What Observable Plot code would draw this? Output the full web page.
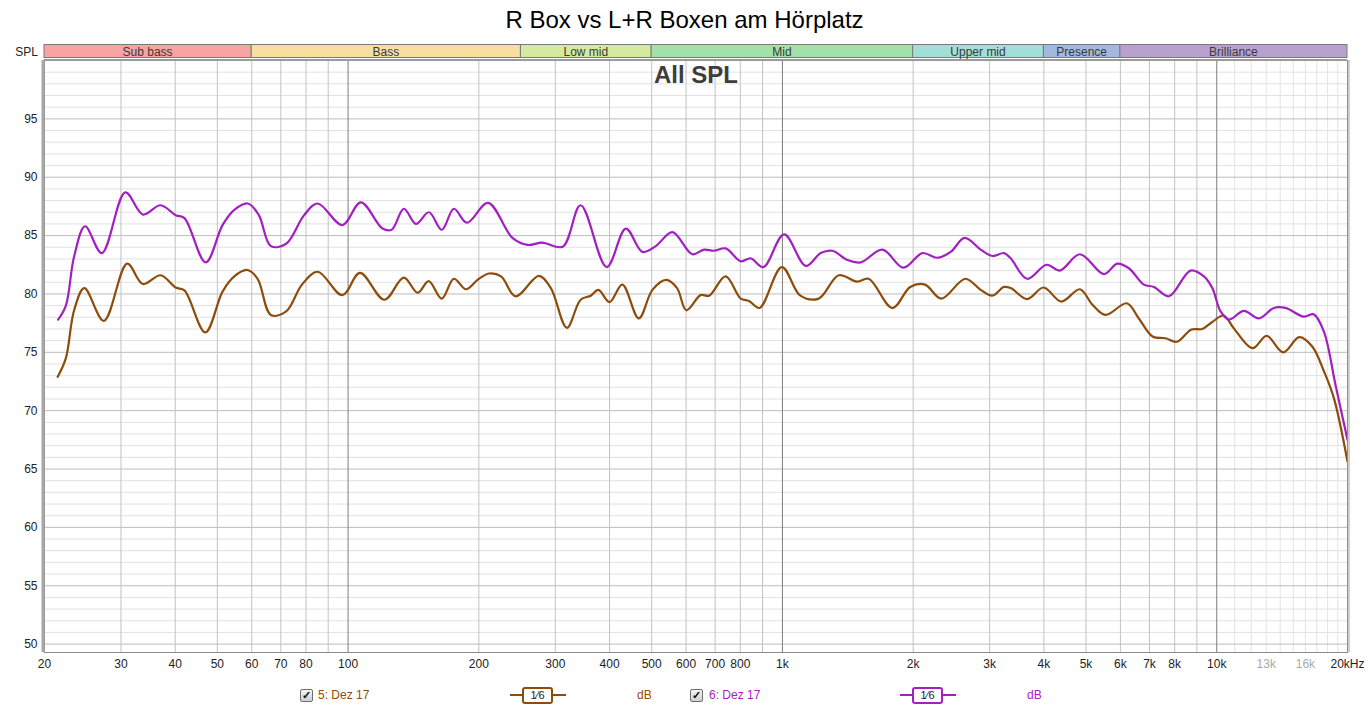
<!DOCTYPE html>
<html>
<head>
<meta charset="utf-8">
<script src="https://cdn.jsdelivr.net/npm/d3@7"></script>
<script src="https://cdn.jsdelivr.net/npm/@observablehq/plot@0.6"></script>
<style>
  body { margin: 0; background: #fff; font-family: "Liberation Sans", Arial, sans-serif; }
  #wrap { position: relative; width: 1369px; height: 710px; overflow: hidden; }
  #title { position: absolute; top: 6px; left: 0; width: 1369px; text-align: center; font-size: 24px; color: #000; }
  #chart { position: absolute; top: 40px; left: 0; }
  .leg { position: absolute; top: 688px; font-size: 12px; line-height: 14px; }
  .cb { position: absolute; top: 689px; width: 11px; height: 11px; border: 1px solid #6f6f6f; border-radius: 2px;
        background: linear-gradient(#f4f4f4, #cfcfcf); font-size: 11px; line-height: 11px; text-align: center; font-weight: bold; color: #111; }
  .sym { position: absolute; top: 687px; width: 56px; height: 17px; }
  .sym .ln { position: absolute; left: 0; right: 0; top: 7px; height: 2px; }
  .sym .bx { position: absolute; left: 12px; width: 27px; top: 0; height: 13px; border: 2px solid; border-radius: 3px; background: #fff;
             font-size: 11px; line-height: 13px; text-align: center; color: #222; }
</style>
</head>
<body>
<div id="wrap">
  <div id="title"></div>
  <div id="chart"></div>
  <div id="legend"></div>
</div>
<script>
// ---- text ----
const TITLE = "R Box vs L+R Boxen am Hörplatz";
const INNER_LABEL = "All SPL";
const Y_AXIS_LABEL = "SPL";

// ---- frequency bands ----
const BANDS = ["Sub bass", "Bass", "Low mid", "Mid", "Upper mid", "Presence", "Brilliance"];
const BAND_LO = [20, 60, 250, 500, 2000, 4000, 6000];
const BAND_HI = [60, 250, 500, 2000, 4000, 6000, 20000];
const BAND_COLORS = ["#f9a3a3", "#f7df9f", "#d4ea9f", "#a3e1ab", "#a3dfd8", "#a3b8de", "#b8a1cc"];

// ---- axes ----
const X_TICKS = [20, 30, 40, 50, 60, 70, 80, 100, 200, 300, 400, 500, 600, 700, 800, 1000, 2000, 3000, 4000, 5000, 6000, 7000, 8000, 10000, 13000, 16000, 20000];
const X_TICK_LABELS = ["20", "30", "40", "50", "60", "70", "80", "100", "200", "300", "400", "500", "600", "700", "800", "1k", "2k", "3k", "4k", "5k", "6k", "7k", "8k", "10k", "13k", "16k", "20kHz"];
const X_FAINT_LABELS = [13000, 16000];
const X_GRID = [30, 40, 50, 60, 70, 80, 90, 200, 300, 400, 500, 600, 700, 800, 900, 2000, 3000, 4000, 5000, 6000, 7000, 8000, 9000];
const X_DECADES = [100, 1000, 10000];
const X_FINE = [11000, 12000, 13000, 14000, 15000, 16000, 17000, 18000, 19000];
const Y_TICKS = [50, 55, 60, 65, 70, 75, 80, 85, 90, 95];
const Y_MAJOR = [50, 55, 60, 65, 70, 75, 80, 85, 90, 95, 100];
const Y_MINOR = d3.range(50, 100).filter(v => v % 5 !== 0);

// ---- series 5: Dez 17 (brown) ----
const SERIES5_NAME = "5: Dez 17";
const FREQ5 = [21.45, 22.4, 23.4, 24.7, 27.4, 31.0, 33.7, 37.0, 40.1, 42.0, 46.9, 51.4, 54.7, 58.6, 61.9, 66.4, 72, 78.3, 85.1, 97, 106.5, 121.2, 134.3, 144.6, 153.3, 164.3, 175.2, 186.8, 198.6, 211, 225, 243, 275, 293, 319, 343, 362, 377, 400, 428, 467, 502, 540, 572, 601, 648, 678, 740, 802, 838, 886, 997, 1100, 1212, 1348, 1486, 1580, 1792, 1969, 2130, 2322, 2637, 2860, 3044, 3237, 3354, 3662, 3992, 4385, 4841, 5168, 5545, 6206, 6616, 7116, 7625, 8091, 8744, 9260, 9766, 10372, 10948, 12088, 13026, 14228, 15488, 16590, 17640, 18600, 20000];
const SPL5 = [72.9, 74.5, 78.6, 80.5, 77.7, 82.6, 80.85, 81.6, 80.55, 80.3, 76.7, 80.2, 81.5, 82.05, 81.3, 78.2, 78.5, 80.8, 81.9, 79.9, 81.8, 79.5, 81.4, 80.1, 81.1, 79.6, 81.3, 80.4, 81.2, 81.75, 81.5, 79.8, 81.55, 80.5, 77.1, 79.5, 79.85, 80.35, 79.3, 80.8, 77.9, 80.35, 81.2, 80.5, 78.6, 79.9, 79.85, 81.5, 79.6, 79.4, 78.8, 82.3, 79.85, 79.6, 81.6, 81.05, 81.3, 78.8, 80.6, 80.8, 79.6, 81.3, 80.35, 79.85, 80.6, 80.5, 79.55, 80.55, 79.35, 80.4, 79.1, 78.2, 79.2, 77.9, 76.35, 76.2, 75.9, 76.95, 77.0, 77.6, 78.15, 77.05, 75.35, 76.4, 75.0, 76.3, 75.5, 73.4, 71.1, 65.65];

// ---- series 6: Dez 17 (purple) ----
const SERIES6_NAME = "6: Dez 17";
const FREQ6 = [21.5, 22.4, 23.4, 24.8, 27.1, 30.7, 33.7, 37.0, 40.1, 42.0, 47.0, 51.4, 54.7, 58.8, 62.3, 66.4, 72, 79.2, 85.1, 97, 107, 120, 126, 134.4, 143.3, 153.5, 164.4, 175.2, 187.7, 210, 239, 259, 280, 312, 343, 394, 436, 476, 511, 558, 620, 660, 696, 740, 802, 845, 904, 1009, 1132, 1225, 1303, 1412, 1514, 1699, 1899, 2100, 2274, 2440, 2628, 2860, 3044, 3237, 3354, 3662, 4058, 4354, 4841, 5497, 5902, 6276, 6796, 7166, 7757, 8703, 9340, 9766, 10206, 10668, 11547, 12501, 13537, 14396, 15861, 16721, 17640, 18770, 20000];
const SPL6 = [77.8, 79.0, 83.2, 85.8, 83.5, 88.7, 86.8, 87.6, 86.75, 86.5, 82.7, 85.9, 87.2, 87.75, 86.75, 84.1, 84.3, 86.75, 87.75, 85.9, 87.85, 85.6, 85.5, 87.3, 86.0, 87.0, 85.5, 87.3, 86.1, 87.8, 84.8, 84.2, 84.4, 84.05, 87.6, 82.3, 85.6, 83.6, 84.1, 85.3, 83.4, 83.8, 83.7, 83.9, 82.8, 83.05, 82.3, 85.1, 82.4, 83.5, 83.7, 82.9, 82.7, 83.8, 82.25, 83.5, 83.1, 83.6, 84.8, 83.8, 83.25, 83.5, 83.05, 81.3, 82.5, 82.0, 83.4, 81.7, 82.6, 82.2, 80.8, 80.6, 79.8, 82.0, 81.5, 80.5, 78.5, 77.8, 78.55, 77.9, 78.8, 78.8, 78.05, 78.25, 76.8, 72.2, 67.5];

const COLOR5 = "#8e4c0c";
const COLOR6 = "#a21fc1";
const SMOOTHING = "1⁄6";
const UNIT = "dB";

// ---- build tables ----
const data5 = FREQ5.map((f, i) => ({f, v: SPL5[i]}));
const data6 = FREQ6.map((f, i) => ({f, v: SPL6[i]}));
const bands = BANDS.map((name, i) => ({name, lo: BAND_LO[i], hi: BAND_HI[i], color: BAND_COLORS[i]}));
const xTicks = X_TICKS.map((f, i) => ({f, label: X_TICK_LABELS[i], faint: X_FAINT_LABELS.includes(f)}));

document.getElementById("title").textContent = TITLE;

const plot = Plot.plot({
  width: 1369,
  height: 640,
  marginTop: 20,
  marginLeft: 44,
  marginRight: 22,
  marginBottom: 28,
  x: {type: "log", domain: [20, 20000], axis: null},
  y: {domain: [49.28, 100], axis: null},
  style: {fontFamily: "'Liberation Sans', Arial, sans-serif", fontSize: "12px", background: "#fff", overflow: "visible"},
  marks: [
    Plot.ruleY(Y_MINOR, {stroke: "#e1e1e1", strokeWidth: 1}),
    Plot.ruleX(X_FINE, {stroke: "#e3e3e3", strokeWidth: 1}),
    Plot.ruleY(Y_MAJOR, {stroke: "#bcbcbc", strokeWidth: 1}),
    Plot.ruleX(X_GRID, {stroke: "#c2c2c2", strokeWidth: 1}),
    Plot.ruleX(X_DECADES, {stroke: "#7c7c7c", strokeWidth: 1}),
    Plot.text([INNER_LABEL], {frameAnchor: "top", lineAnchor: "middle", dy: 15, text: d => d, fontSize: 24, fontWeight: "bold", fill: "#3d3d3d"}),
    Plot.line(data5, {x: "f", y: "v", stroke: COLOR5, strokeWidth: 2.2, curve: "catmull-rom"}),
    Plot.line(data6, {x: "f", y: "v", stroke: COLOR6, strokeWidth: 2.2, curve: "catmull-rom"}),
    Plot.frame({stroke: "#8c8c8c", strokeWidth: 1}),
    Plot.ruleX([20], {stroke: "#a8a8a8", strokeWidth: 3, dx: -1.5}),
    Plot.ruleY([100], {stroke: "#9a9a9a", strokeWidth: 2, dy: -0.5}),
    Plot.ruleX([20000], {stroke: "#cfcfcf", strokeWidth: 2, dx: 1.5}),
    Plot.text(Y_TICKS, {frameAnchor: "left", y: d => d, dx: -7, textAnchor: "end", text: d => String(d), fill: "#222"}),
    Plot.text(xTicks.filter(d => !d.faint), {x: "f", frameAnchor: "bottom", lineAnchor: "middle", dy: 12, text: "label", fill: "#222"}),
    Plot.text(xTicks.filter(d => d.faint), {x: "f", frameAnchor: "bottom", lineAnchor: "middle", dy: 12, text: "label", fill: "#a9a9a9"})
  ]
});

// band bar above the plot, positioned with the plot's own x scale
const xs = plot.scale("x");
const svg = d3.select(plot);
const bandG = svg.append("g");
bandG.selectAll("rect").data(bands).join("rect")
  .attr("x", d => xs.apply(d.lo))
  .attr("width", d => xs.apply(d.hi) - xs.apply(d.lo))
  .attr("y", 4.5).attr("height", 13)
  .attr("fill", d => d.color)
  .attr("stroke", "#7a7a7a").attr("stroke-width", 1);
bandG.selectAll("text").data(bands).join("text")
  .attr("x", d => (xs.apply(d.lo) + xs.apply(d.hi)) / 2)
  .attr("y", 11.5)
  .attr("dy", "0.35em")
  .attr("text-anchor", "middle")
  .attr("font-size", 12)
  .attr("fill", "#3a3a3a")
  .text(d => d.name);
svg.append("text")
  .attr("x", 38).attr("y", 11.5).attr("dy", "0.35em")
  .attr("text-anchor", "end").attr("font-size", 12).attr("fill", "#222")
  .text(Y_AXIS_LABEL);

document.getElementById("chart").appendChild(plot);

// legend below the plot
const legend = document.getElementById("legend");
const legendItems = [
  {name: SERIES5_NAME, color: COLOR5, cb: 300, label: 318, sym: 510, unit: 637},
  {name: SERIES6_NAME, color: COLOR6, cb: 690, label: 709, sym: 900, unit: 1027}
];
for (const it of legendItems) {
  legend.insertAdjacentHTML("beforeend",
    `<div class="cb" style="left:${it.cb}px">✓</div>` +
    `<div class="leg" style="left:${it.label}px;color:${it.color}">${it.name}</div>` +
    `<div class="sym" style="left:${it.sym}px"><div class="ln" style="background:${it.color}"></div>` +
    `<div class="bx" style="border-color:${it.color}">${SMOOTHING}</div></div>` +
    `<div class="leg" style="left:${it.unit}px;color:${it.color}">${UNIT}</div>`);
}
</script>
</body>
</html>
